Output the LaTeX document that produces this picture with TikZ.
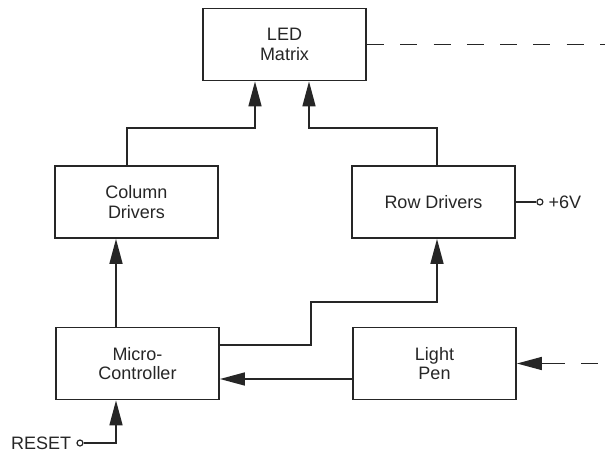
\documentclass[tikz,border=0pt]{standalone}
\usepackage{fontspec}
\setmainfont{Liberation Sans}
\usepackage{tikz}
\usetikzlibrary{positioning, arrows.meta, calc}

\begin{document}
\begin{tikzpicture}[
    x=1pt, y=-1pt,
    font=\fontsize{18}{19.5}\selectfont,
    block/.style={
        rectangle,
        draw=black!85,
        line width=1.8pt,
        minimum width=163pt,
        minimum height=72pt,
        align=center,
        inner sep=3pt,
        text=black!85
    },
    terminal/.style={circle, draw=black!85, line width=1.2pt, fill=white, minimum size=6pt, inner sep=0pt},
    arr/.style={-{Triangle[length=25pt, width=13pt]}, line width=1.6pt, draw=black!85},
    wire/.style={line width=1.6pt, draw=black!85},
    dashline/.style={line width=1.5pt, draw=black!85, dash pattern=on 17pt off 16.3pt}
]

\useasboundingbox (0,0) rectangle (605,452);

\node[block] (led)   at (284.5,  44.5) {LED\\Matrix};
\node[block] (col)   at (136.5, 202)   {Column\\Drivers};
\node[block] (row)   at (433.5, 202)   {Row Drivers};
\node[block] (micro) at (137.5, 363.5) {Micro-\\Controller};
\node[block] (pen)   at (434.5, 363.5) {Light\\Pen};

\coordinate (ledout) at (605, 44.5);
\coordinate (penin) at ([xshift=47pt]pen.east);

\node[terminal] (vcc) at ([xshift=24pt]row.east) {};
\node[right=4pt of vcc, inner sep=1pt, text=black!85] (vcclabel) {+6V};
\node[terminal] (rst) at (80, 443) {};
\node[left=4pt of rst, inner sep=1pt, text=black!85] (rstlabel) {RESET};

\draw[arr] ([xshift=-9.5pt]col.north) -- ++(0,-37) -| ([xshift=-29.5pt]led.south);
\draw[arr] ([xshift=3.5pt]row.north) -- ++(0,-37) -| ([xshift=24.5pt]led.south);
\draw[arr] ([xshift=-21.5pt]micro.north) -- ([xshift=-21.5pt]micro.north |- col.south);
\draw[arr] ([yshift=18.5pt]micro.east) -- ++(91,0) -- ++(0,-43) -| ([xshift=3.5pt]row.south);
\draw[arr] ([yshift=-15.5pt]pen.west) -- ([yshift=-15.5pt]pen.west -| micro.east);
\draw[arr] (rst.east) -| ([xshift=-21.5pt]micro.south);
\draw[arr] (penin) -- (pen.east);

\draw[wire] (row.east) -- (vcc.west);
\draw[dashline] (led.east) -- (ledout);
\draw[dashline] ([xshift=34pt]penin) -- (penin);

\end{tikzpicture}
\end{document}
